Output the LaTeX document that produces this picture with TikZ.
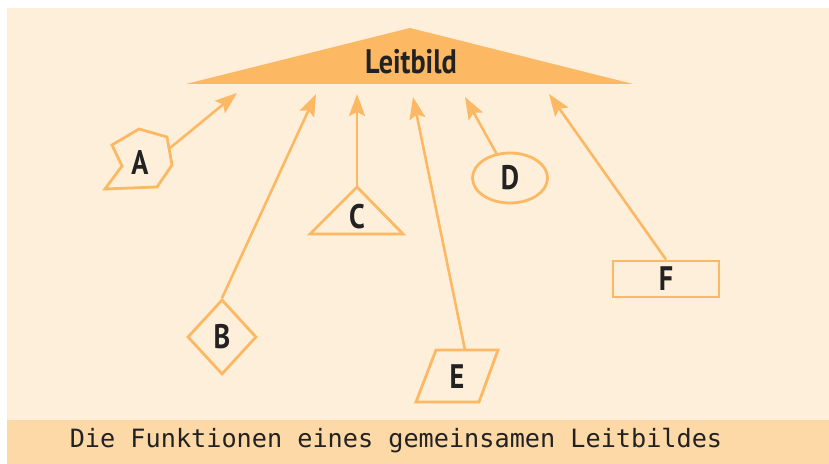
\documentclass[tikz,border=0pt]{standalone}
\usepackage{fontspec}
\usepackage{xcolor}
\usetikzlibrary{arrows.meta,shapes.geometric,positioning}
\newfontfamily\labfont{PT Sans}[FakeStretch=0.83]
\newfontfamily\capfont{DejaVu Sans Mono}
\definecolor{bgcream}{HTML}{FEEFDA}
\definecolor{barorange}{HTML}{FDD9A7}
\definecolor{mainorange}{HTML}{FDB863}
\definecolor{textdark}{HTML}{222222}
\tikzset{
	basic/.style = {draw=mainorange, line width=1.4pt, inner sep=0pt, font=\labfont\bfseries\fontsize{17}{17}\selectfont, text=textdark},
	rhomb/.style = {basic, diamond, minimum width=34.5pt, minimum height=37.5pt},
	round/.style = {basic, ellipse, minimum width=37.5pt, minimum height=25pt},
	box/.style = {basic, rectangle, minimum width=53pt, minimum height=18pt},
	letter/.style = {basic, draw=none},
	link/.style = {draw=mainorange, line width=1.3pt, -{Stealth[length=11pt,width=8pt,inset=2pt]}}
}

\begin{document}
\begin{tikzpicture}[x=0.5pt, y=-0.5pt]
	\useasboundingbox (0,0) rectangle (829,464);
	\fill[bgcream] (7,8) rectangle (829,464);
	\fill[barorange] (7,420) rectangle (829,464);
	% Leitbild
	\fill[mainorange] (186,84) -- (410,28) -- (633,84) -- cycle;
	\node[letter] (top) at (411,62) {Leitbild};
	% arrow tips below the base
	\coordinate (tA) at (237,93);
	\coordinate (tB) at (316,94);
	\coordinate (tC) at (357,94);
	\coordinate (tE) at (413,97);
	\coordinate (tD) at (465,97);
	\coordinate (tF) at (549,94);
	% the shapes
	\draw[basic] (139,129) -- (167,137) -- (172,165) -- (157,187) -- (105,189) -- (122,166) -- (112,145) -- cycle;
	\node[letter] (A) at (140,163) {A};
	\coordinate (aOut) at (170,148);
	\node[rhomb] (B) at (222,337) {B};
	\draw[basic] (310,234) -- (357,187) -- (403,234) -- cycle;
	\node[letter] (C) at (357,217) {C};
	\coordinate (cTop) at (357,187);
	\node[round] (D) at (510,178) {D};
	\draw[basic] (416,402) -- (436,350) -- (498,350) -- (479,402) -- cycle;
	\node[letter] (E) at (457,377) {E};
	\coordinate (eTop) at (465,350);
	\node[box] (F) at (666,279) {F};
	% arrows
	\draw[link] (aOut) -- (tA);
	\draw[link] (B.north) -- (tB);
	\draw[link] (cTop) -- (tC);
	\draw[link] (D) -- (tD);
	\draw[link] (eTop) -- (tE);
	\draw[link] (F.north) -- (tF);
	\node[font=\capfont\fontsize{12.6}{14}\selectfont, text=textdark] (caption) at (396,441) {Die Funktionen eines gemeinsamen Leitbildes};
\end{tikzpicture}
\end{document}
